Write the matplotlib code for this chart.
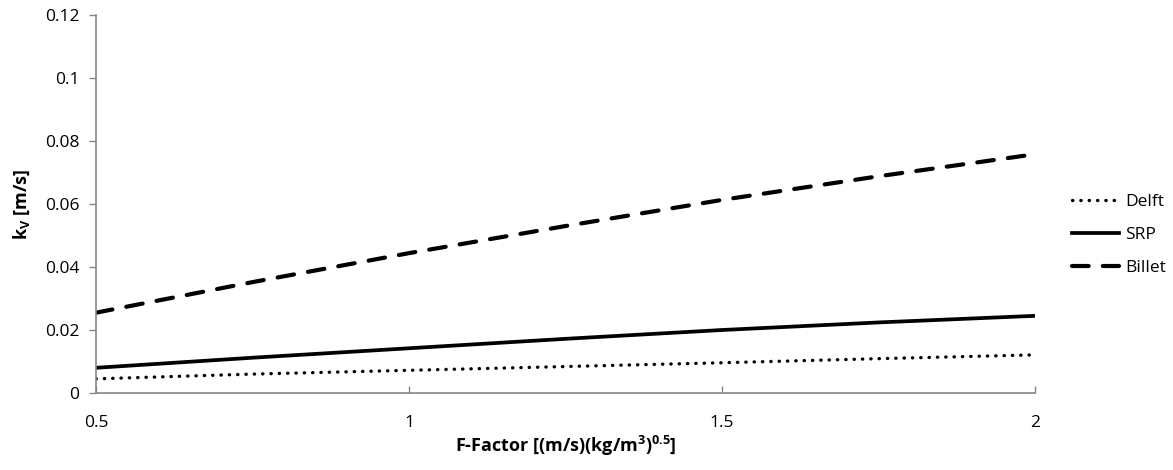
import numpy as np
import matplotlib.pyplot as plt

# F-factor values and k_V
f_factor = [0.5, 0.75, 1.0, 1.25, 1.5, 1.75, 2.0]
delft = [0.0045, 0.0060, 0.0072, 0.0084, 0.0096, 0.0109, 0.0121]
srp = [0.0080, 0.0112, 0.0142, 0.0172, 0.0200, 0.0224, 0.0245]
billet = [0.0255, 0.0352, 0.0444, 0.0530, 0.0613, 0.0688, 0.0758]

x_ticks = [0.5, 1, 1.5, 2]
y_ticks = [0, 0.02, 0.04, 0.06, 0.08, 0.1, 0.12]

plt.rcParams['font.family'] = ['Open Sans', 'DejaVu Sans']
plt.rcParams['mathtext.default'] = 'regular'

fig = plt.figure(figsize=(11.73, 4.70), dpi=100)
ax = fig.add_axes([96 / 1173, 1 - 393 / 470, (1035 - 96) / 1173, (393 - 15) / 470])

ax.plot(f_factor, delft, color='black', lw=2.4, linestyle=(0, (0.1, 2.4)),
        dash_capstyle='round', label='Delft')
ax.plot(f_factor, srp, color='black', lw=2.7, label='SRP')
ax.plot(f_factor, billet, color='black', lw=3.0, linestyle=(0, (4.0, 3.4)),
        dash_capstyle='round', label='Billet')

ax.set_xlim(0.5, 2)
ax.set_ylim(0, 0.12)
ax.set_xticks(x_ticks)
ax.set_xticklabels(['0.5', '1', '1.5', '2'])
ax.set_yticks(y_ticks)
ax.set_yticklabels(['0', '0.02', '0.04', '0.06', '0.08', '0.1', '0.12'])

for s in ['top', 'right']:
    ax.spines[s].set_visible(False)
for s in ['left', 'bottom']:
    ax.spines[s].set_color('#868686')
    ax.spines[s].set_linewidth(1.2)

ax.tick_params(axis='y', direction='out', length=5, width=1, color='#868686',
               labelsize=12.5, pad=7)
ax.tick_params(axis='x', direction='in', length=5, width=1, color='#868686',
               labelsize=12.5, pad=16)

ax.set_xlabel('F-Factor [(m/s)(kg/m$^3$)$^{0.5}$]', fontsize=13, fontweight='bold',
              labelpad=2)
ax.set_ylabel('k$_V$ [m/s]', fontsize=13, fontweight='bold', labelpad=9)

fig.legend(loc='center left', bbox_to_anchor=(1056 / 1173, 1 - 235 / 470),
           frameon=False, fontsize=12.5, handlelength=2.7, handletextpad=0.4,
           labelspacing=0.95)

fig.savefig('out.png', dpi=100)
